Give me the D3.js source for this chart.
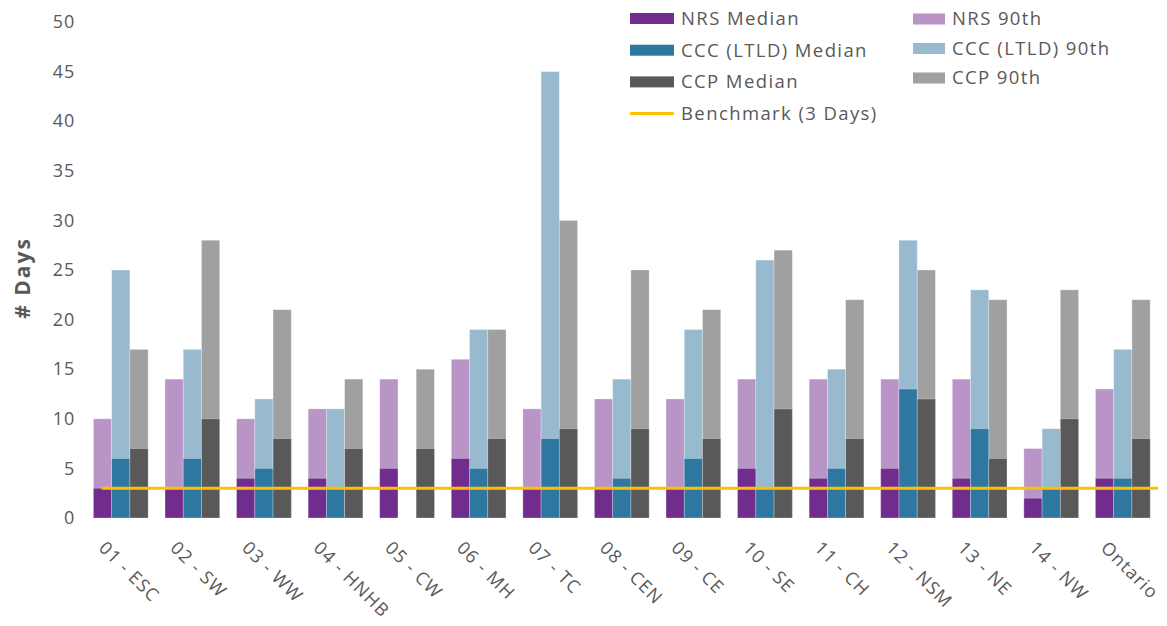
<!DOCTYPE html>
<html>
<head>
<meta charset="utf-8">
<script src="https://cdn.jsdelivr.net/npm/d3@7"></script>
<style>
  html, body { margin: 0; padding: 0; background: #fff; }
  svg { display: block; }
  text { font-family: "Open Sans", Lato, sans-serif; fill: #595959; }
</style>
</head>
<body>
<svg id="chart" width="1167" height="626"></svg>
<script>
// Regions (x categories)
const categories = ["01 - ESC", "02 - SW", "03 - WW", "04 - HNHB", "05 - CW", "06 - MH", "07 - TC",
  "08 - CEN", "09 - CE", "10 - SE", "11 - CH", "12 - NSM", "13 - NE", "14 - NW", "Ontario"];

// Wait times in days
const nrsMedian = [3, 3, 4, 4, 5, 6, 3, 3, 3, 5, 4, 5, 4, 2, 4];
const nrs90th   = [10, 14, 10, 11, 14, 16, 11, 12, 12, 14, 14, 14, 14, 7, 13];
const cccMedian = [6, 6, 5, 3, 0, 5, 8, 4, 6, 3, 5, 13, 9, 3, 4];
const ccc90th   = [25, 17, 12, 11, 0, 19, 45, 14, 19, 26, 15, 28, 23, 9, 17];
const ccpMedian = [7, 10, 8, 7, 7, 8, 9, 9, 8, 11, 8, 12, 6, 10, 8];
const ccp90th   = [17, 28, 21, 14, 15, 19, 30, 25, 21, 27, 22, 25, 22, 23, 22];
const benchmark = 3;

const yTicks = [0, 5, 10, 15, 20, 25, 30, 35, 40, 45, 50];

const programs = ["NRS", "CCC", "CCP"];
const series = [
  { program: "NRS", kind: "90th",   name: "NRS 90th",          values: nrs90th,   color: "#B894C7" },
  { program: "CCC", kind: "90th",   name: "CCC (LTLD) 90th",   values: ccc90th,   color: "#97BACF" },
  { program: "CCP", kind: "90th",   name: "CCP 90th",          values: ccp90th,   color: "#A0A0A0" },
  { program: "NRS", kind: "median", name: "NRS Median",        values: nrsMedian, color: "#702D8E" },
  { program: "CCC", kind: "median", name: "CCC (LTLD) Median", values: cccMedian, color: "#2E77A0" },
  { program: "CCP", kind: "median", name: "CCP Median",        values: ccpMedian, color: "#595959" }
];

const FONT = "'Open Sans', Lato, sans-serif";
const svg = d3.select("#chart");

const x = d3.scaleBand().domain(categories).range([85, 1158.6])
  .paddingInner(0.236).paddingOuter(0.118);
const xSub = d3.scaleBand().domain(programs).range([0, x.bandwidth()]);
const y = d3.scaleLinear().domain([0, 50]).range([518, 22]);

// Y axis labels (no axis line, no gridlines)
const yAxis = d3.axisLeft(y).tickValues(yTicks).tickSize(0).tickPadding(0);
const gy = svg.append("g").attr("transform", "translate(75,0)").call(yAxis);
gy.select(".domain").remove();
gy.selectAll("text").style("font-size", "18px").style("font-family", FONT)
  .style("letter-spacing", "0.8px").attr("fill", "#595959");

svg.append("text")
  .attr("transform", "translate(30,278) rotate(-90)")
  .attr("text-anchor", "middle")
  .style("font-size", "21px").style("font-weight", "bold").style("letter-spacing", "2px")
  .text("# Days");

// Bars: 90th percentile behind, median in front
const barsG = svg.append("g");
series.forEach(s => {
  barsG.append("g").selectAll("rect")
    .data(categories.map((c, i) => ({ c, v: s.values[i] })).filter(d => d.v > 0))
    .join("rect")
    .attr("x", d => x(d.c) + xSub(s.program))
    .attr("y", d => y(d.v))
    .attr("width", xSub.bandwidth())
    .attr("height", d => y(0) - y(d.v))
    .attr("fill", s.color)
    .attr("stroke", "rgba(255,255,255,0.35)")
    .attr("stroke-width", 0.8);
});

// Benchmark line
svg.append("line")
  .attr("x1", x(categories[0]) + 8).attr("x2", 1158)
  .attr("y1", y(benchmark)).attr("y2", y(benchmark))
  .attr("stroke", "#FFC000").attr("stroke-width", 3);

// X axis labels, rotated 45 degrees
const xAxis = d3.axisBottom(x).tickSize(0).tickPadding(0);
const gx = svg.append("g").call(xAxis);
gx.select(".domain").remove();
gx.selectAll(".tick").attr("transform", d => `translate(${x(d) + x.bandwidth() / 2 - 23},549)`);
gx.selectAll("text")
  .attr("x", 0).attr("y", 0).attr("dy", 0)
  .attr("transform", "rotate(45)")
  .attr("text-anchor", "start")
  .attr("fill", "#595959")
  .style("font-size", "18px").style("letter-spacing", "1.2px").style("font-family", FONT);

// Legend
const legend = svg.append("g");
const col1 = [
  { name: "NRS Median", color: "#702D8E", type: "rect" },
  { name: "CCC (LTLD) Median", color: "#2E77A0", type: "rect" },
  { name: "CCP Median", color: "#595959", type: "rect" },
  { name: "Benchmark (3 Days)", color: "#FFC000", type: "line" }
];
const col2 = [
  { name: "NRS 90th", color: "#B894C7", type: "rect" },
  { name: "CCC (LTLD) 90th", color: "#97BACF", type: "rect" },
  { name: "CCP 90th", color: "#A0A0A0", type: "rect" }
];
function drawLegend(items, x0, sw, tx, y0, dy) {
  items.forEach((it, i) => {
    const cy = y0 + i * dy;
    if (it.type === "rect") {
      legend.append("rect").attr("x", x0).attr("y", cy - 5.5).attr("width", sw).attr("height", 11)
        .attr("fill", it.color);
    } else {
      legend.append("line").attr("x1", x0).attr("x2", x0 + sw).attr("y1", cy).attr("y2", cy)
        .attr("stroke", it.color).attr("stroke-width", 3);
    }
    legend.append("text").attr("x", tx).attr("y", cy).attr("dy", "0.35em")
      .style("font-size", "18.5px").style("letter-spacing", "1.4px").text(it.name);
  });
}
drawLegend(col1, 630, 44, 681, 18.5, 31.7);
drawLegend(col2, 913, 32, 952, 19, 29.5);
</script>
</body>
</html>
